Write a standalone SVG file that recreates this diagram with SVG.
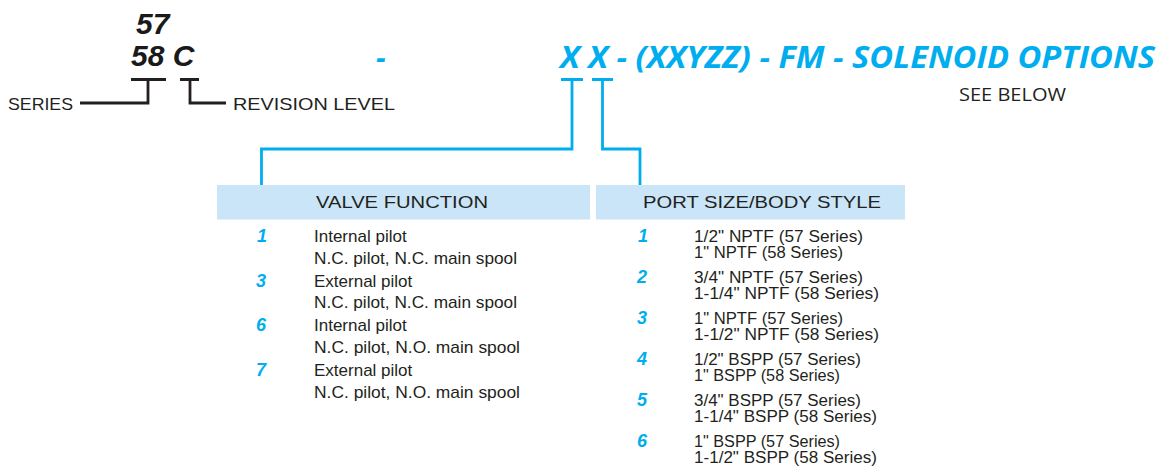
<svg xmlns="http://www.w3.org/2000/svg" width="1160" height="471" viewBox="0 0 1160 471">
<style>
.code{font-family:"Liberation Sans",Arial,sans-serif;font-weight:bold;font-style:italic;font-size:30px;fill:#1a1a1a}
.blue{font-family:"Open Sans","Liberation Sans",sans-serif;font-weight:bold;font-style:italic;font-size:30px;fill:#00aeef}
.lbl{font-family:"Liberation Sans",Arial,sans-serif;font-size:17px;fill:#231f20}
.see{font-family:"Open Sans","Liberation Sans",sans-serif;font-size:19px;fill:#231f20}
.hdr{fill:#c9e5f7}
.htxt{font-family:"Liberation Sans",Arial,sans-serif;font-size:17px;fill:#231f20}
.num{font-family:"Liberation Sans",Arial,sans-serif;font-weight:bold;font-style:italic;font-size:18px;fill:#00aeef}
.item{font-family:"Liberation Sans",Arial,sans-serif;font-size:17px;fill:#231f20}
.item2{font-family:"Liberation Sans",Arial,sans-serif;font-size:16px;fill:#231f20}
.kline{fill:none;stroke:#231f20;stroke-width:2.8}
.bline{fill:none;stroke:#00aeef;stroke-width:2.8}
</style>
<g id="code">
<text class="code" x="136" y="34">57</text>
<text class="code" x="131" y="66">58 C</text>
<text class="blue" x="376" y="68">-</text>
<text class="blue" x="560" y="68" textLength="595" lengthAdjust="spacingAndGlyphs">X X - (XXYZZ) - FM - SOLENOID OPTIONS</text>
<text class="see" x="959" y="101" textLength="107" lengthAdjust="spacingAndGlyphs">SEE BELOW</text>
</g>
<g id="series">
<text class="lbl" x="8" y="110" textLength="65" lengthAdjust="spacingAndGlyphs">SERIES</text>
</g>
<g id="revision">
<text class="lbl" x="233" y="110" textLength="162" lengthAdjust="spacingAndGlyphs">REVISION LEVEL</text>
</g>
<g id="connectors">
<path class="kline" d="M131,79.5 H166 M148,79.5 V103 H80"/>
<path class="kline" d="M180,79.5 H199 M190,79.5 V103 H226"/>
<path class="bline" d="M561,79.5 H583 M572,79.5 V149 H261.5 V185"/>
<path class="bline" d="M592,79.5 H613 M602.5,79.5 V149 H640 V185"/>
</g>
<g id="valve-function">
<rect class="hdr" x="217" y="185" width="373" height="34.5"/>
<text class="htxt" x="316" y="208" textLength="172" lengthAdjust="spacingAndGlyphs">VALVE FUNCTION</text>
<text class="num" x="257" y="241.5">1</text>
<text class="item" x="314" y="241.5">Internal pilot</text>
<text class="item" x="314" y="263.5" textLength="203" lengthAdjust="spacingAndGlyphs">N.C. pilot, N.C. main spool</text>
<text class="num" x="256" y="286.5">3</text>
<text class="item" x="314" y="286.5">External pilot</text>
<text class="item" x="314" y="308" textLength="203" lengthAdjust="spacingAndGlyphs">N.C. pilot, N.C. main spool</text>
<text class="num" x="256" y="331">6</text>
<text class="item" x="314" y="331">Internal pilot</text>
<text class="item" x="314" y="353" textLength="206" lengthAdjust="spacingAndGlyphs">N.C. pilot, N.O. main spool</text>
<text class="num" x="256" y="375.5">7</text>
<text class="item" x="314" y="375.5">External pilot</text>
<text class="item" x="314" y="397.5" textLength="206" lengthAdjust="spacingAndGlyphs">N.C. pilot, N.O. main spool</text>
</g>
<g id="port-size">
<rect class="hdr" x="596" y="185" width="309" height="34.5"/>
<text class="htxt" x="643" y="208" textLength="238" lengthAdjust="spacingAndGlyphs">PORT SIZE/BODY STYLE</text>
<text class="num" x="638" y="241.5">1</text>
<text class="item2" x="694" y="241.5" textLength="169" lengthAdjust="spacingAndGlyphs">1/2" NPTF (57 Series)</text>
<text class="item2" x="694" y="258" textLength="149" lengthAdjust="spacingAndGlyphs">1" NPTF (58 Series)</text>
<text class="num" x="637" y="282.5">2</text>
<text class="item2" x="694" y="282.5" textLength="169" lengthAdjust="spacingAndGlyphs">3/4" NPTF (57 Series)</text>
<text class="item2" x="694" y="299" textLength="185" lengthAdjust="spacingAndGlyphs">1-1/4" NPTF (58 Series)</text>
<text class="num" x="637" y="323.5">3</text>
<text class="item2" x="694" y="323.5" textLength="149" lengthAdjust="spacingAndGlyphs">1" NPTF (57 Series)</text>
<text class="item2" x="694" y="340" textLength="185" lengthAdjust="spacingAndGlyphs">1-1/2" NPTF (58 Series)</text>
<text class="num" x="637" y="364.5">4</text>
<text class="item2" x="694" y="364.5" textLength="167" lengthAdjust="spacingAndGlyphs">1/2" BSPP (57 Series)</text>
<text class="item2" x="694" y="381" textLength="146" lengthAdjust="spacingAndGlyphs">1" BSPP (58 Series)</text>
<text class="num" x="637" y="405.5">5</text>
<text class="item2" x="694" y="405.5" textLength="167" lengthAdjust="spacingAndGlyphs">3/4" BSPP (57 Series)</text>
<text class="item2" x="694" y="422" textLength="183" lengthAdjust="spacingAndGlyphs">1-1/4" BSPP (58 Series)</text>
<text class="num" x="637" y="446.5">6</text>
<text class="item2" x="694" y="446.5" textLength="146" lengthAdjust="spacingAndGlyphs">1" BSPP (57 Series)</text>
<text class="item2" x="694" y="463" textLength="183" lengthAdjust="spacingAndGlyphs">1-1/2" BSPP (58 Series)</text>
</g>
</svg>
